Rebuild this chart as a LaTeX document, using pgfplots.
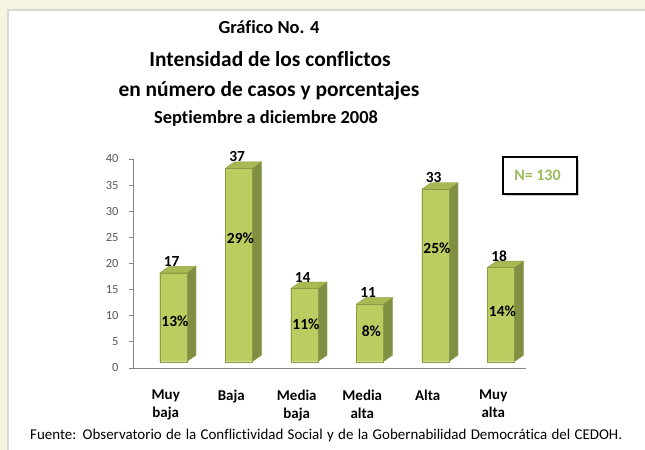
\documentclass[border=0pt]{standalone}
\usepackage{pgfplots}
\pgfplotsset{compat=1.18}
\usepackage{pgfplotstable}
\usepackage{fontspec}
\setmainfont{Carlito}[Ligatures={NoCommon}]
\definecolor{beige}{RGB}{246,244,224}
\definecolor{frameline}{RGB}{216,216,216}
\definecolor{frontc}{RGB}{187,204,96}
\definecolor{topc}{RGB}{168,184,82}
\definecolor{sidec}{RGB}{128,143,66}
\definecolor{edgec}{RGB}{140,156,70}
\definecolor{axisc}{RGB}{134,134,134}
\definecolor{tickc}{RGB}{89,89,89}
\definecolor{ngreen}{RGB}{155,187,89}

% x: category, v: cases, p: percent, py: height of percent label
\pgfplotstableread{
x v p py
0 17 13 9.0
1 37 29 24.9
2 14 11 8.4
3 11 8 7.1
4 33 25 23.0
5 18 14 10.8
}\data

\begin{document}
\begin{tikzpicture}[x=1bp,y=1bp]
\useasboundingbox (0,0) rectangle (645,450);
\fill[beige] (0,0) rectangle (645,450);
\fill[white] (7,0) rectangle (645,441);
\draw[frameline, line width=1.5bp] (8,0) -- (8,440) -- (645,440);

% titles
\node[anchor=base, font=\bfseries\fontsize{18.5}{20}\selectfont] at (269,416) {Gráfico No. 4};
\node[anchor=base, font=\bfseries\fontsize{21.5}{24}\selectfont] at (270,383) {Intensidad de los conflictos};
\node[anchor=base, font=\bfseries\fontsize{21.5}{24}\selectfont] at (269,353) {en número de casos y porcentajes};
\node[anchor=base, font=\bfseries\fontsize{18.5}{20}\selectfont] at (266,326) {Septiembre a diciembre 2008};

\begin{axis}[
  at={(133bp,82bp)}, anchor=south west,
  scale only axis, width=393bp, height=209bp,
  xmin=-0.5, xmax=5.5, ymin=0, ymax=40,
  axis x line*=bottom, axis y line*=left,
  axis line style={axisc, line width=0.8bp},
  tick align=outside,
  ytick={0,5,...,40},
  major tick length=4bp,
  tick style={axisc, line width=0.8bp},
  yticklabel style={font=\fontsize{12.5}{14}\selectfont, text=tickc, xshift=-7bp},
  /pgf/number format/assume math mode=true,
  xtick={0,...,5},
  xticklabels={Muy\\baja, Baja\\\mbox{}, Media\\baja, Media\\alta, Alta\\\mbox{}, Muy\\alta},
  x tick style={draw=none},
  xticklabel style={font=\bfseries\fontsize{15}{18}\selectfont, align=center, anchor=north, inner sep=0pt, yshift=-18bp},
  extra x ticks={-0.5,0.5,1.5,2.5,3.5,4.5,5.5},
  extra x tick labels={},
  extra x tick style={tick style={draw=axisc, line width=0.8bp}, major tick length=5bp},
  clip=false,
]
\pgfplotsinvokeforeach{0,...,5}{
  \pgfplotstablegetelem{#1}{v}\of\data
  \pgfmathsetmacro\yt{\pgfplotsretval+1.2}
  \pgfmathsetmacro\ytb{\pgfplotsretval+2.46}
  \pgfmathsetmacro\xl{#1-0.092}
  \pgfmathsetmacro\xr{#1+0.32}
  \pgfmathsetmacro\xlb{#1+0.05}
  \pgfmathsetmacro\xrb{#1+0.462}
  \addplot[fill=sidec, draw=edgec, line width=0.4bp] coordinates {(\xr,1.2) (\xrb,2.46) (\xrb,\ytb) (\xr,\yt) (\xr,1.2)};
  \addplot[fill=topc, draw=edgec, line width=0.4bp] coordinates {(\xl,\yt) (\xr,\yt) (\xrb,\ytb) (\xlb,\ytb) (\xl,\yt)};
  \addplot[fill=frontc, draw=edgec, line width=0.4bp] coordinates {(\xl,1.2) (\xr,1.2) (\xr,\yt) (\xl,\yt) (\xl,1.2)};
}
% value labels
\addplot[draw=none, mark=none, nodes near coords, point meta=explicit,
  nodes near coords style={font=\bfseries\fontsize{15.5}{17}\selectfont, anchor=base, text=black, inner sep=0pt}]
  table[x expr=\thisrow{x}+0.09, y expr=\thisrow{v}+2.45, meta=v] {\data};
% percentage labels
\addplot[draw=none, mark=none, nodes near coords={\pgfmathprintnumber{\pgfplotspointmeta}\%}, point meta=explicit,
  nodes near coords style={font=\bfseries\fontsize{15.5}{17}\selectfont, anchor=center, text=black, inner sep=0pt}]
  table[x expr=\thisrow{x}+0.14, y=py, meta=p] {\data};
\end{axis}

% N box
\fill[gray!40] (505,253.5) rectangle (579,290);
\draw[black, line width=1.6bp, fill=white] (503,256) rectangle (577,293);
\node[font=\bfseries\fontsize{16}{18}\selectfont, text=ngreen] at (537.5,275) {N= 130};

% footer
\node[anchor=base west, font=\fontsize{15}{17}\selectfont, inner sep=0pt] at (30,10) {\makebox[592bp][s]{Fuente: Observatorio\ de la Conflictividad Social y de la Gobernabilidad\ Democrática del CEDOH.}};
\end{tikzpicture}
\end{document}
